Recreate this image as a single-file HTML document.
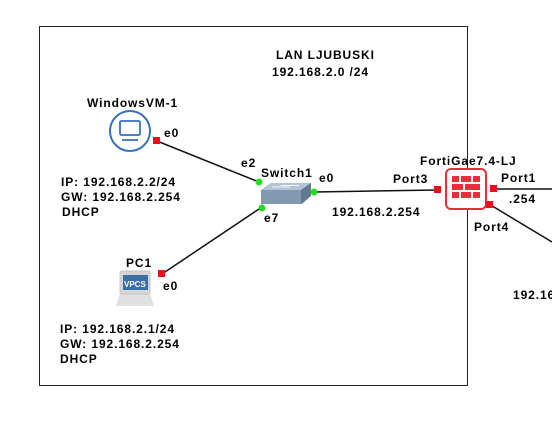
<!DOCTYPE html>
<html><head><style>
html,body{margin:0;padding:0;background:#fff;}
svg{display:block;}
text{font-family:"Liberation Sans",sans-serif;font-weight:bold;font-size:12px;fill:#000;letter-spacing:0.9px;}
</style></head><body>
<svg width="552" height="424" viewBox="0 0 552 424" xmlns="http://www.w3.org/2000/svg">
<rect x="39.5" y="26.5" width="428" height="359" fill="none" stroke="#222" stroke-width="1"/>
<line x1="157" y1="141" x2="259" y2="182" stroke="#111" stroke-width="1.5"/>
<line x1="162" y1="274" x2="262" y2="207" stroke="#111" stroke-width="1.5"/>
<line x1="314" y1="192" x2="437" y2="190" stroke="#111" stroke-width="1.5"/>
<line x1="494" y1="189" x2="552" y2="189" stroke="#111" stroke-width="1.5"/>
<line x1="489" y1="204" x2="552" y2="242" stroke="#111" stroke-width="1.5"/>
<text x="276" y="59">LAN LJUBUSKI</text>
<text x="272" y="76">192.168.2.0 /24</text>
<text x="87" y="107">WindowsVM-1</text>
<text x="164" y="137">e0</text>
<text x="61" y="186">IP: 192.168.2.2/24</text>
<text x="61" y="201">GW: 192.168.2.254</text>
<text x="62" y="216">DHCP</text>
<text x="241" y="167">e2</text>
<text x="261" y="177">Switch1</text>
<text x="319" y="182">e0</text>
<text x="264" y="222">e7</text>
<text x="332" y="216">192.168.2.254</text>
<text x="393" y="183">Port3</text>
<text x="420" y="165">FortiGae7.4-LJ</text>
<text x="501" y="182">Port1</text>
<text x="509" y="203">.254</text>
<text x="474" y="231">Port4</text>
<text x="513" y="299">192.16</text>
<text x="126" y="267">PC1</text>
<text x="163" y="290">e0</text>
<text x="60" y="333">IP: 192.168.2.1/24</text>
<text x="60" y="348">GW: 192.168.2.254</text>
<text x="60" y="363">DHCP</text>
<circle cx="130" cy="131" r="20" fill="#fff" stroke="#3a6fc0" stroke-width="2"/>
<rect x="120" y="121" width="20" height="14" rx="1.5" fill="none" stroke="#3a6fc0" stroke-width="1.8"/>
<line x1="122" y1="140" x2="138" y2="140" stroke="#3a6fc0" stroke-width="1.8"/>
<polygon points="261,190 271,183 311,183 311,196 302,204 261,204" fill="#8299b0"/>
<polygon points="261,190 271,183 311,183 301,190" fill="#b3c4d4"/>
<polygon points="301,190 311,183 311,196 301,204" fill="#62798f"/>
<line x1="272" y1="187" x2="290" y2="187" stroke="#eef3f8" stroke-width="1"/>
<line x1="281" y1="185.5" x2="299" y2="185.5" stroke="#eef3f8" stroke-width="1"/>
<path d="M116 306 L120 293 L150 293 L154 306 Z" fill="#e0e0e0"/>
<rect x="120" y="271" width="30" height="23" rx="2" fill="#d6d6d6" stroke="#c4c4c4"/>
<rect x="123" y="275" width="25" height="15" fill="#3b6ea4"/>
<text x="124" y="287" style="font-size:8px;fill:#fff;letter-spacing:0">VPCS</text>
<rect x="446" y="169" width="40" height="40" rx="5" fill="#fff" stroke="#e0323a" stroke-width="2"/>
<g fill="#e0323a">
<rect x="452" y="176" width="7" height="6"/><rect x="461" y="176" width="10" height="6"/><rect x="473" y="176" width="7" height="6"/>
<rect x="452" y="184" width="11" height="6"/><rect x="465" y="184" width="15" height="6"/>
<rect x="452" y="192" width="7" height="6"/><rect x="461" y="192" width="10" height="6"/><rect x="473" y="192" width="7" height="6"/>
</g>
<g fill="#e8101a">
<rect x="153" y="137" width="7" height="7"/>
<rect x="158" y="270" width="7" height="7"/>
<rect x="434" y="186" width="7" height="7"/>
<rect x="490" y="185" width="7" height="7"/>
<rect x="486" y="201" width="7" height="7"/>
</g>
<g fill="#22dd22">
<circle cx="259" cy="182" r="3.5"/>
<circle cx="314" cy="192" r="3.5"/>
<circle cx="262" cy="208" r="3.5"/>
</g>
</svg>
</body></html>
